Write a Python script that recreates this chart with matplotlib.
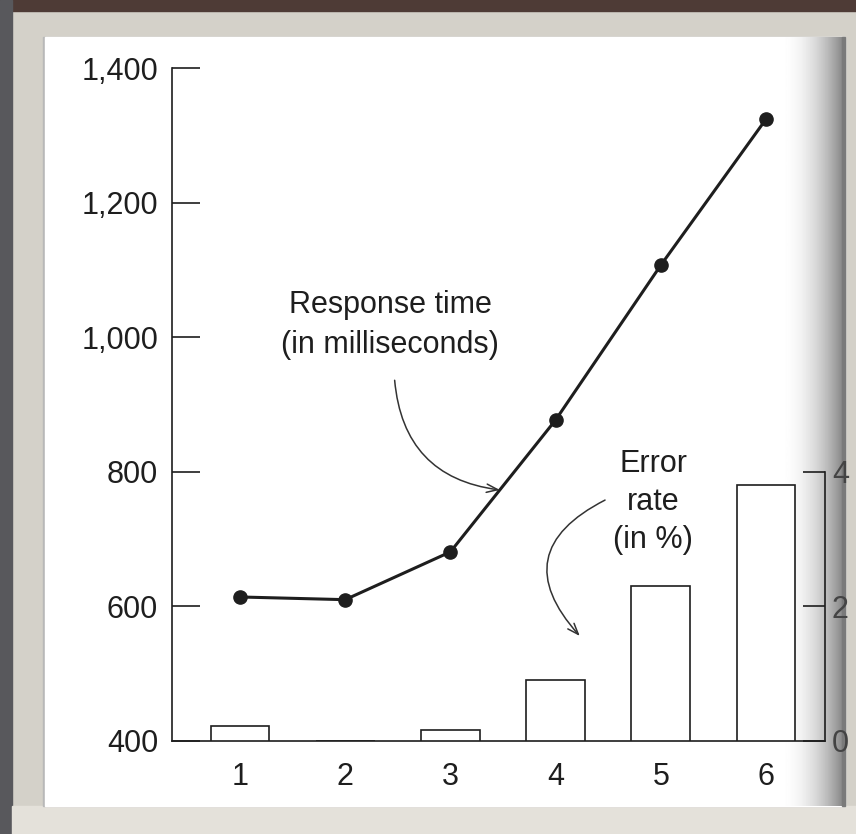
import numpy as np
import matplotlib.pyplot as plt
from matplotlib.patches import Rectangle

plt.rcParams['font.family'] = ['Liberation Sans', 'DejaVu Sans']

# data
trials = [1, 2, 3, 4, 5, 6]
response_ms = [614, 610, 681, 877, 1107, 1324]
error_pct = [0.23, 0.0, 0.17, 0.9, 2.3, 3.8]
left_ticks = [400, 600, 800, 1000, 1200, 1400]
right_ticks = [0, 2, 4]

W, H = 856, 834
ink = '#1e1e1e'

fig = plt.figure(figsize=(W / 100, H / 100), dpi=100)
fig.patch.set_facecolor('#d4d1c9')

# backdrop: frame, paper and the curl shadow on the right edge
bg = fig.add_axes([0, 0, 1, 1], zorder=-1)
bg.add_patch(Rectangle((0, 0), W, 11, color='#4e3b36'))
bg.add_patch(Rectangle((0, 0), 12, H, color='#58585c'))
bg.add_patch(Rectangle((12, 806), W - 12, H - 806, color='#e4e1da'))
bg.add_patch(Rectangle((43, 37), 802, 769, color='#b8b8b8'))
bg.add_patch(Rectangle((45, 37), 800, 769, color='white'))
shade = 1 - 0.5 * np.linspace(0, 1, 80) ** 2
bg.imshow(shade[None, :], extent=(780, 845, 806, 37), cmap='gray',
          vmin=0, vmax=1, aspect='auto', zorder=2)
bg.add_patch(Rectangle((842, 37), 3, 769, color='#7a7a7a', zorder=3))
bg.set_xlim(0, W)
bg.set_ylim(H, 0)
bg.axis('off')

# main axes (response time)
ax = fig.add_axes([172 / W, (H - 741) / H, (825 - 172) / W, (741 - 68) / H])
ax.patch.set_alpha(0)
ax.set_xlim(1 - 68 / 105.2, 6 + 59 / 105.2)
ax.set_ylim(400, 1400)
for s in ['top', 'right']:
    ax.spines[s].set_visible(False)
for s in ['left', 'bottom']:
    ax.spines[s].set_linewidth(1.2)
    ax.spines[s].set_color(ink)

ax.set_yticks(left_ticks)
ax.set_yticklabels([f'{v:,}' for v in left_ticks])
ax.set_xticks(trials)
ax.tick_params(axis='y', direction='in', length=20, width=1.2, color=ink,
               pad=10, labelsize=22, labelcolor=ink)
ax.tick_params(axis='x', length=0, pad=15, labelsize=22, labelcolor=ink)

ax.plot(trials, response_ms, color=ink, lw=2.2, marker='o', ms=9.5, zorder=5)

# error rate bars on the right axis
ax2 = ax.twinx()
ax2.patch.set_alpha(0)
ax2.set_ylim(0, 10.0)
ax2.bar(trials, error_pct, width=0.56, facecolor='white', edgecolor=ink, lw=1.2)
for s in ['top', 'left', 'bottom']:
    ax2.spines[s].set_visible(False)
ax2.spines['right'].set_bounds(0, 4)
ax2.spines['right'].set_linewidth(1.2)
ax2.spines['right'].set_color(ink)
ax2.set_yticks(right_ticks)
ax2.tick_params(axis='y', direction='in', length=16, width=1.2, color=ink,
                pad=5, labelsize=22, labelcolor='#444')

# labels with curved arrows
ax.text(2.43, 1018, 'Response time\n(in milliseconds)', ha='center', va='center',
        fontsize=22, color=ink, linespacing=1.45)
ax.annotate('', xy=(3.47, 773), xytext=(2.47, 936),
            arrowprops=dict(arrowstyle='->,head_length=0.8,head_width=0.3',
                            connectionstyle='arc3,rad=0.4', lw=1.1, color='#333',
                            shrinkA=0, shrinkB=0))
ax.text(4.93, 755, 'Error\nrate\n(in %)', ha='center', va='center',
        fontsize=22, color=ink, linespacing=1.35)
ax.annotate('', xy=(4.23, 556), xytext=(4.47, 758),
            arrowprops=dict(arrowstyle='->,head_length=0.8,head_width=0.3',
                            connectionstyle='arc3,rad=0.65', lw=1.1, color='#333',
                            shrinkA=0, shrinkB=0))

fig.savefig('out.png', dpi=100, facecolor=fig.get_facecolor())
